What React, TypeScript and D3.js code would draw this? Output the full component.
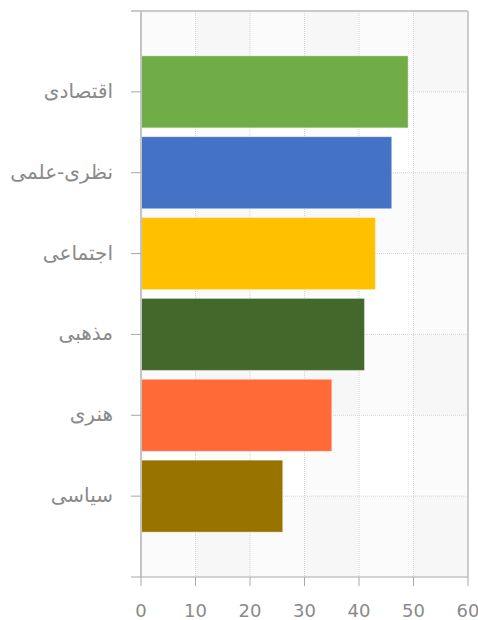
import React from "react";
import * as d3 from "d3";

const categories = ["اقتصادی", "نظری-علمی", "اجتماعی", "مذهبی", "هنری", "سیاسی"];
const values = [49, 46, 43, 41, 35, 26];
const colors = ["#70ad47", "#4472c4", "#ffc000", "#43682b", "#ff6a36", "#997300"];
const xTicks = [0, 10, 20, 30, 40, 50, 60];

const W = 478;
const H = 620;
const left = 141;
const right = 468;
const top = 11;
const bottom = 577;

export default function App() {
  const x = d3.scaleLinear().domain([0, 60]).range([left, right]);
  const y = d3.scaleLinear().domain([0, categories.length + 1]).range([top, bottom]);
  const step = y(1) - y(0);
  const barH = step * 0.89;
  const font = "'DejaVu Sans', Tahoma, sans-serif";
  const textColor = "#8a8a8a";

  const hEdges = [top, ...categories.map((_, i) => y(i + 1)), bottom];
  const vEdges = xTicks.map((t) => x(t));

  return (
    <svg
      width={W}
      height={H}
      style={{ display: "block", position: "absolute", left: 0, top: 0 }}
    >
      <rect x={0} y={0} width={W} height={H} fill="#fff" />
      {vEdges.slice(0, -1).map((v, i) =>
        i % 2 === 1 ? (
          <rect key={"vs" + i} x={v} y={top} width={vEdges[i + 1] - v} height={bottom - top} fill="#000" fillOpacity={0.017} />
        ) : null
      )}
      {hEdges.slice(0, -1).map((h, i) =>
        i % 2 === 0 ? (
          <rect key={"hs" + i} x={left} y={h} width={right - left} height={hEdges[i + 1] - h} fill="#000" fillOpacity={0.017} />
        ) : null
      )}
      {xTicks.slice(1, -1).map((t) => (
        <line key={"vg" + t} x1={x(t)} x2={x(t)} y1={top} y2={bottom} stroke="#d4d4d4" strokeDasharray="1,1" />
      ))}
      {categories.map((c, i) => (
        <line key={"hg" + c} x1={left} x2={right} y1={y(i + 1)} y2={y(i + 1)} stroke="#d4d4d4" strokeDasharray="1,1" />
      ))}
      {categories.map((c, i) => (
        <rect
          key={"b" + c}
          x={x(0)}
          y={y(i + 1) - barH / 2}
          width={x(values[i]) - x(0)}
          height={barH}
          fill={colors[i]}
          stroke="#ffffff"
          strokeOpacity={0.35}
          strokeWidth={1}
        />
      ))}
      <line x1={left - 10} x2={right} y1={top} y2={top} stroke="#b8b8b8" strokeWidth={1.5} />
      <line x1={right} x2={right} y1={top} y2={bottom} stroke="#cccccc" strokeWidth={2} />
      <line x1={left} x2={left} y1={top} y2={bottom} stroke="#c4c4c4" strokeWidth={2} />
      <line x1={left - 10} x2={right} y1={bottom} y2={bottom} stroke="#a8a8a8" strokeWidth={1} />
      {categories.map((c, i) => (
        <g key={"yl" + c}>
          <line x1={left - 10} x2={left} y1={y(i + 1)} y2={y(i + 1)} stroke="#a8a8a8" />
          <text
            x={113}
            y={y(i + 1)}
            dy="0.3em"
            textAnchor="end"
            fontFamily={font}
            fontSize={20}
            fill={textColor}
          >
            {c}
          </text>
        </g>
      ))}
      {xTicks.map((t) => (
        <g key={"xt" + t}>
          <line x1={x(t)} x2={x(t)} y1={bottom} y2={bottom + 9} stroke="#a8a8a8" />
          <text x={x(t)} y={617} textAnchor="middle" fontFamily={font} fontSize={18} fill={textColor}>
            {t}
          </text>
        </g>
      ))}
    </svg>
  );
}
